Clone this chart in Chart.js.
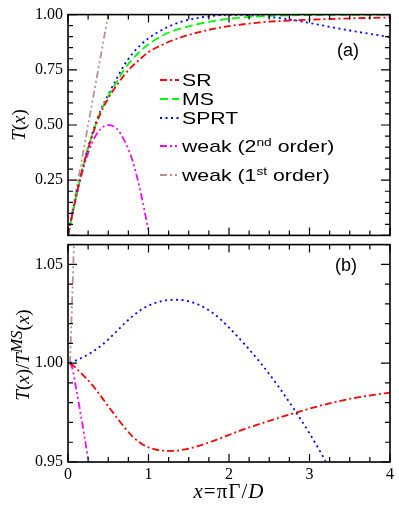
<!DOCTYPE html>
<html>
<head>
<meta charset="utf-8">
<script src="https://cdn.jsdelivr.net/npm/chart.js@4.4.1/dist/chart.umd.min.js"></script>
<style>
body { margin: 0; background: #fff; }
#wrap { position: relative; width: 399px; height: 512px; overflow: hidden; }
canvas { position: absolute; left: 0; }
.t { position: absolute; white-space: nowrap; color: #000; line-height: 1; }
.serif { font-family: 'Liberation Serif', 'Times New Roman', serif; }
.sans { font-family: 'Liberation Sans', Arial, sans-serif; }
.leg { position: absolute; left: 182px; font-size: 17px; transform-origin: left center; }
.leg sup { font-size: 11px; vertical-align: 0.55em; }
.sample { position: absolute; left: 160px; }
</style>
</head>
<body>
<div id="wrap">
  <canvas id="chart-a" width="399" height="250" style="top:0"></canvas>
  <canvas id="chart-b" width="399" height="282" style="top:230px"></canvas>

  <div class="t serif" style="left:18px;top:125px;font-size:19px;transform:translate(-50%,-50%) rotate(-90deg)"><i>T</i>(<i>x</i>)</div>
  <div class="t serif" style="left:20px;top:355px;font-size:19px;transform:translate(-50%,-50%) rotate(-90deg)"><i>T</i>(<i>x</i>)/<i>T</i><sup style="font-size:17px;vertical-align:0.45em"><i>MS</i></sup>(<i>x</i>)</div>
  <div class="t serif" style="left:229px;top:491px;font-size:21px;letter-spacing:1px;transform:translate(-50%,-50%)"><i>x</i>=&pi;&Gamma;/<i>D</i></div>

  <div class="t sans" style="left:337px;top:50px;font-size:18px;transform:translateY(-50%)">(a)</div>
  <div class="t sans" style="left:335px;top:265px;font-size:18px;transform:translateY(-50%)">(b)</div>

  <div id="legend"></div>
</div>
<script>
'use strict';
// panel (a): transmission T(x)
var xs = [0, 0.1, 0.2, 0.3, 0.4, 0.5, 0.6, 0.7, 0.8, 0.9, 1.0, 1.2, 1.4, 1.6, 1.8, 2.0, 2.2, 2.5, 2.8, 3.0, 3.5, 4.0];
var tSR = [0, 0.175, 0.328, 0.45, 0.55, 0.62, 0.677, 0.727, 0.767, 0.8, 0.83, 0.868, 0.897, 0.918, 0.935, 0.948, 0.957, 0.968, 0.974, 0.977, 0.983, 0.987];
var tMS = [0, 0.175, 0.33, 0.455, 0.555, 0.63, 0.692, 0.752, 0.798, 0.835, 0.866, 0.91, 0.937, 0.956, 0.97, 0.981, 0.988, 0.994, 0.997, 0.998, 0.999, 1.0];
var tSPRT = [0, 0.175, 0.332, 0.46, 0.562, 0.637, 0.707, 0.772, 0.823, 0.862, 0.893, 0.937, 0.967, 0.984, 0.994, 0.999, 0.998, 0.99, 0.975, 0.962, 0.928, 0.898];
var xsWeak2 = [0, 0.1, 0.2, 0.3, 0.4, 0.5, 0.6, 0.7, 0.8, 0.9, 1.0];
var tWeak2 = [0, 0.175, 0.315, 0.42, 0.48, 0.5, 0.485, 0.43, 0.34, 0.2, 0.02];
var xsWeak1 = [0, 0.25, 0.5];
var tWeak1 = [0, 0.5, 1.0];

// panel (b): ratio T(x)/T_MS(x)
var bxSR = [0.025, 0.1, 0.2, 0.3, 0.4, 0.5, 0.6, 0.7, 0.8, 0.9, 1.0, 1.1, 1.2, 1.3, 1.4, 1.5, 1.6, 1.7, 1.8, 1.9, 2.0, 2.2, 2.4, 2.6, 2.8, 3.0, 3.2, 3.4, 3.6, 3.8, 4.0];
var rSR = [1.0, 0.9975, 0.9935, 0.989, 0.9838, 0.9782, 0.9728, 0.9676, 0.963, 0.9596, 0.9574, 0.9562, 0.9557, 0.9556, 0.956, 0.9568, 0.9579, 0.9592, 0.9606, 0.9621, 0.9637, 0.9668, 0.9695, 0.9721, 0.9746, 0.977, 0.9792, 0.9811, 0.9827, 0.984, 0.9851];
var bxSPRT = [0.025, 0.1, 0.2, 0.3, 0.4, 0.5, 0.6, 0.7, 0.8, 0.9, 1.0, 1.1, 1.2, 1.3, 1.4, 1.5, 1.6, 1.7, 1.8, 1.9, 2.0, 2.2, 2.4, 2.6, 2.8, 3.0, 3.2];
var rSPRT = [1.0, 1.0014, 1.0033, 1.0056, 1.0085, 1.012, 1.016, 1.02, 1.0237, 1.0268, 1.0291, 1.0307, 1.0317, 1.0321, 1.032, 1.0313, 1.03, 1.028, 1.0254, 1.022, 1.018, 1.0093, 0.9997, 0.989, 0.9772, 0.9645, 0.9505];
var bxWeak2 = [0.025, 0.05, 0.1, 0.15, 0.2, 0.25, 0.3];
var rWeak2 = [1.0, 0.998, 0.9875, 0.976, 0.964, 0.9515, 0.939];
var bxWeak1 = [0.025, 0.05, 0.075];
var rWeak1 = [1.0, 1.03, 1.062];

var xTickLabels = ['0', '1', '2', '3', '4'];
var tTickLabels = ['0.25', '0.50', '0.75', '1.00'];
var rTickLabels = ['0.95', '1.00', '1.05'];

var series = [
  { label: 'SR', color: '#ff0000', dash: [7, 3, 2, 3] },
  { label: 'MS', color: '#00ff00', dash: [8, 4] },
  { label: 'SPRT', color: '#0000ff', dash: [2, 3.5] },
  { label: 'weak (2<sup>nd</sup> order)', color: '#ff00ff', dash: [7, 3, 2, 3, 2, 3] },
  { label: 'weak (1<sup>st</sup> order)', color: '#bc8f8f', dash: [7, 3, 2, 3, 2, 3] }
];
var legendY = [80, 99, 118, 146, 175];

function pts(x, y) {
  var out = [];
  for (var i = 0; i < x.length; i++) out.push({ x: x[i], y: y[i] });
  return out;
}

function ds(s, data) {
  return {
    data: data,
    borderColor: s.color,
    borderDash: s.dash,
    borderWidth: 1.8,
    pointRadius: 0,
    fill: false,
    cubicInterpolationMode: 'monotone',
    clip: 0
  };
}

// box with inward ticks on all four sides, like the original plot
var frameTicks = {
  id: 'frameTicks',
  afterDraw: function(chart, args, o) {
    var ctx = chart.ctx, a = chart.chartArea;
    var sx = chart.scales.x, sy = chart.scales.y;
    ctx.save();
    ctx.strokeStyle = '#000';
    ctx.lineWidth = 1.2;
    ctx.beginPath();
    var i, px, len;
    for (i = 0; i <= o.xCount; i++) {
      px = sx.getPixelForValue(o.xMin + i * o.xStep);
      len = i % o.xMajor === 0 ? 8 : 5;
      ctx.moveTo(px, a.bottom); ctx.lineTo(px, a.bottom - len);
      ctx.moveTo(px, a.top); ctx.lineTo(px, a.top + len);
    }
    for (i = 0; i <= o.yCount; i++) {
      px = sy.getPixelForValue(o.yMin + i * o.yStep);
      len = i % o.yMajor === 0 ? 9 : 5;
      ctx.moveTo(a.left, px); ctx.lineTo(a.left + len, px);
      ctx.moveTo(a.right, px); ctx.lineTo(a.right - len, px);
    }
    ctx.stroke();
    ctx.lineWidth = 1.6;
    ctx.strokeRect(a.left, a.top, a.right - a.left, a.bottom - a.top);
    ctx.restore();
  }
};

var tickFont = { family: "'Liberation Serif', 'Times New Roman', serif", size: 16 };

function yScale(min, max, labels) {
  return {
    type: 'linear', min: min, max: max,
    afterBuildTicks: function(s) { s.ticks = labels.map(function(l) { return { value: parseFloat(l) }; }); },
    afterFit: function(s) { s.width = 68; },
    grid: { display: false, drawTicks: false },
    border: { display: false },
    ticks: { color: '#000', font: tickFont, padding: 5, callback: function(v) { return v.toFixed(2); } }
  };
}

Chart.defaults.font.family = tickFont.family;

new Chart(document.getElementById('chart-a').getContext('2d'), {
  type: 'line',
  data: {
    datasets: [
      ds(series[0], pts(xs, tSR)),
      ds(series[1], pts(xs, tMS)),
      ds(series[2], pts(xs, tSPRT)),
      ds(series[3], pts(xsWeak2, tWeak2)),
      ds(series[4], pts(xsWeak1, tWeak1))
    ]
  },
  options: {
    responsive: false, animation: false, devicePixelRatio: 1,
    layout: { padding: { left: 0, right: 9, top: 13, bottom: 13 } },
    plugins: { legend: { display: false }, tooltip: { enabled: false },
      frameTicks: { xMin: 0, xStep: 0.25, xCount: 16, xMajor: 4, yMin: 0, yStep: 0.05, yCount: 20, yMajor: 5 } },
    scales: {
      x: { type: 'linear', min: 0, max: 4, display: false },
      y: yScale(0, 1, tTickLabels)
    }
  },
  plugins: [frameTicks]
});

new Chart(document.getElementById('chart-b').getContext('2d'), {
  type: 'line',
  data: {
    datasets: [
      ds(series[0], pts(bxSR, rSR)),
      ds(series[2], pts(bxSPRT, rSPRT)),
      ds(series[3], pts(bxWeak2, rWeak2)),
      ds(series[4], pts(bxWeak1, rWeak1))
    ]
  },
  options: {
    responsive: false, animation: false, devicePixelRatio: 1,
    layout: { padding: { left: 0, right: 9, top: 7, bottom: 25 } },
    plugins: { legend: { display: false }, tooltip: { enabled: false },
      frameTicks: { xMin: 0, xStep: 0.25, xCount: 16, xMajor: 4, yMin: 0.95, yStep: 0.01, yCount: 11, yMajor: 5 } },
    scales: {
      x: {
        type: 'linear', min: 0, max: 4,
        afterBuildTicks: function(s) { s.ticks = xTickLabels.map(function(l) { return { value: parseFloat(l) }; }); },
        afterFit: function(s) { s.height = 25; },
        grid: { display: false, drawTicks: false },
        border: { display: false },
        ticks: { color: '#000', font: tickFont, padding: 3, maxRotation: 0, callback: function(v) { return String(v); } }
      },
      y: yScale(0.95, 1.06, rTickLabels)
    }
  },
  plugins: [frameTicks]
});

// legend inside panel (a)
var leg = document.getElementById('legend');
series.forEach(function(s, i) {
  var y = legendY[i];
  var sv = document.createElementNS('http://www.w3.org/2000/svg', 'svg');
  sv.setAttribute('width', '19'); sv.setAttribute('height', '4');
  sv.setAttribute('class', 'sample');
  sv.style.top = (y - 2) + 'px';
  sv.innerHTML = '<line x1="0" y1="2" x2="19" y2="2" stroke="' + s.color + '" stroke-width="1.8" stroke-dasharray="' + s.dash.join(' ') + '"/>';
  leg.appendChild(sv);
  var d = document.createElement('div');
  d.className = 't sans leg';
  d.style.top = y + 'px';
  d.style.transform = 'translateY(-50%) scaleX(1.25)';
  d.innerHTML = s.label;
  leg.appendChild(d);
});
</script>
</body>
</html>
